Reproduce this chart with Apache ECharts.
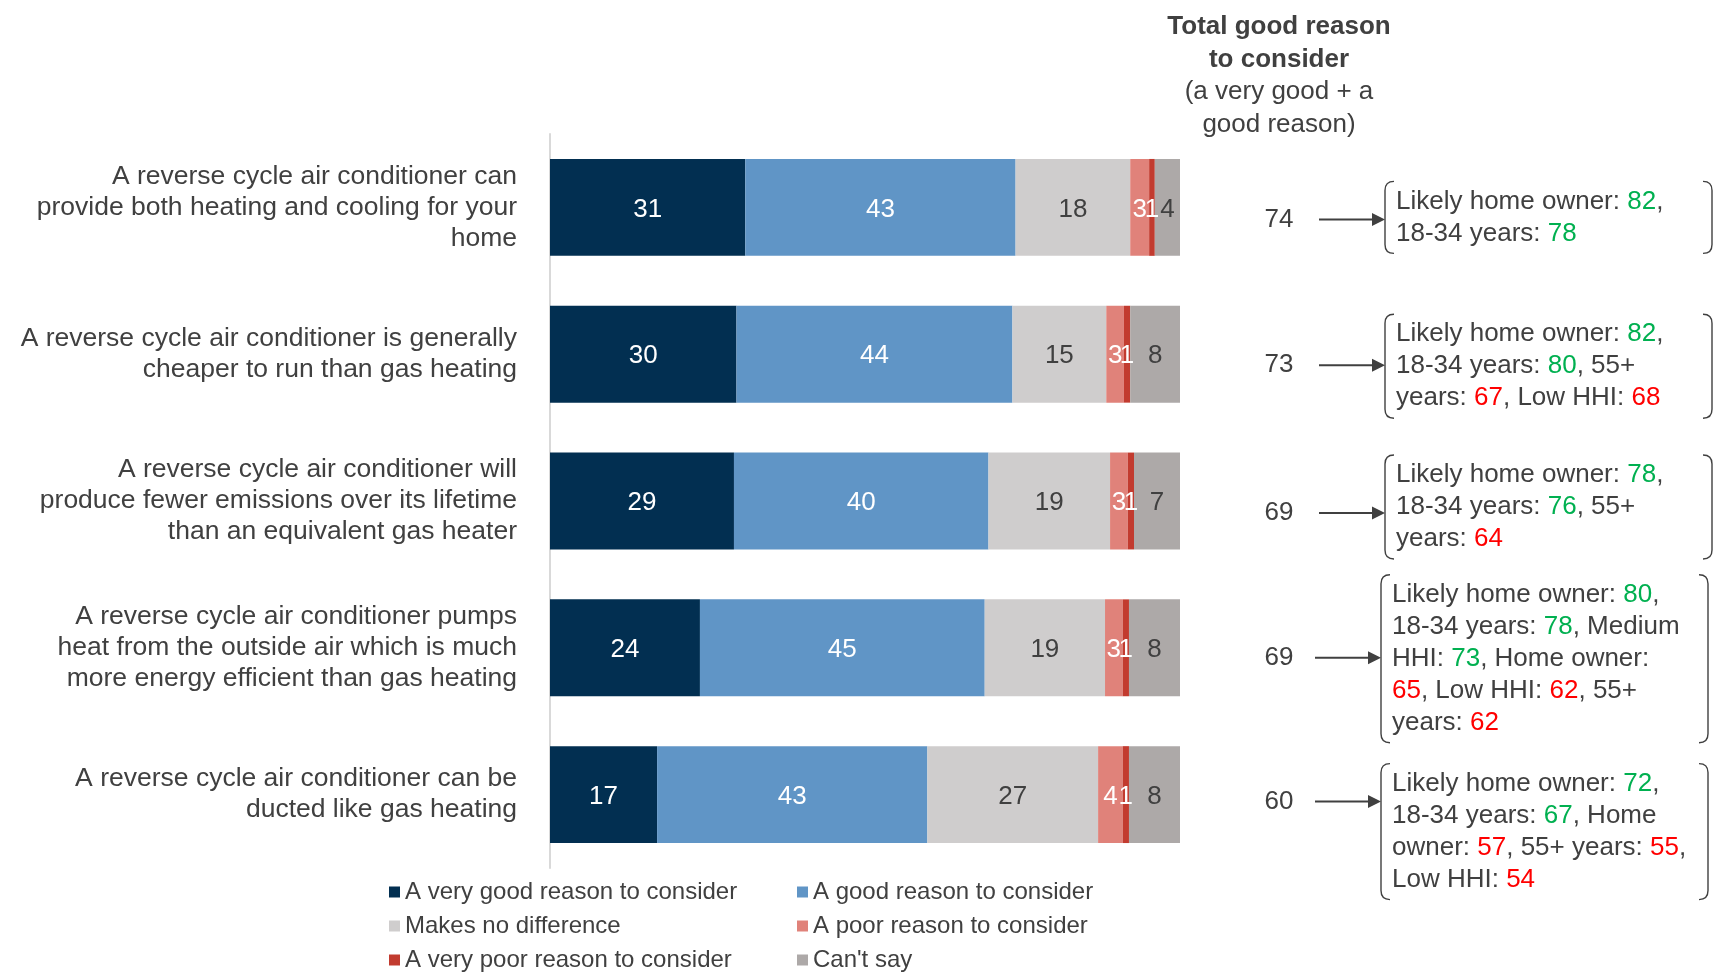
<!DOCTYPE html>
<html>
<head>
<meta charset="utf-8">
<script src="https://cdn.jsdelivr.net/npm/echarts@6/dist/echarts.min.js"></script>
<style>
html,body{margin:0;padding:0;background:#fff;}
#chart{width:1729px;height:980px;}
</style>
</head>
<body>
<div id="chart"></div>
<script>
// ---------- data ----------
const categories = [
  "A reverse cycle air conditioner can\nprovide both heating and cooling for your\nhome",
  "A reverse cycle air conditioner is generally\ncheaper to run than gas heating",
  "A reverse cycle air conditioner will\nproduce fewer emissions over its lifetime\nthan an equivalent gas heater",
  "A reverse cycle air conditioner pumps\nheat from the outside air which is much\nmore energy efficient than gas heating",
  "A reverse cycle air conditioner can be\nducted like gas heating"
];
const seriesNames = [
  "A very good reason to consider",
  "A good reason to consider",
  "Makes no difference",
  "A poor reason to consider",
  "A very poor reason to consider",
  "Can't say"
];
// shares (%); labels show rounded values
const veryGood = [31.0, 29.6, 29.2, 23.8, 17.0];
const good     = [42.9, 43.8, 40.4, 45.2, 42.9];
const noDiff   = [18.2, 14.9, 19.3, 19.1, 27.1];
const poor     = [3.0, 2.8, 2.8, 2.8, 3.9];
const veryPoor = [0.9, 1.0, 1.0, 1.0, 1.0];
const cantSay  = [4.0, 7.9, 7.3, 8.1, 8.1];
const totals   = [74, 73, 69, 69, 60];
const notes = [
  "Likely home owner: {g|82},\n18-34 years: {g|78}",
  "Likely home owner: {g|82},\n18-34 years: {g|80}, 55+\nyears: {r|67}, Low HHI: {r|68}",
  "Likely home owner: {g|78},\n18-34 years: {g|76}, 55+\nyears: {r|64}",
  "Likely home owner: {g|80},\n18-34 years: {g|78}, Medium\nHHI: {g|73}, Home owner:\n{r|65}, Low HHI: {r|62}, 55+\nyears: {r|62}",
  "Likely home owner: {g|72},\n18-34 years: {g|67}, Home\nowner: {r|57}, 55+ years: {r|55},\nLow HHI: {r|54}"
];

// ---------- styling / layout ----------
const FONT = "'Liberation Sans', Arial, sans-serif";
const TXT = '#404040';
const barColors = ['#022F51', '#6095C6', '#CFCDCD', '#E0827A', '#C23B2F', '#ADA9A8'];
const labelColors = ['#ffffff', '#ffffff', '#404040', '#ffffff', '#ffffff', '#404040'];
const totalDy = [12, 11, 12, 10, 7];
const noteDx = [0, 0, 0, -4, -4];
const boxDy = [-2, 1, -6, 1, 30];

const values = [veryGood, good, noDiff, poor, veryPoor, cantSay];

function renderNote(params, api) {
  const i = api.value(1);
  const p = api.coord([0, i]);
  const gx = p[0];
  const y = p[1] + totalDy[i];
  const sx = noteDx[i];
  const arrowStart = gx + 139 + sx;
  const arrowEnd = gx + 205 + sx;
  const boxL = arrowEnd;
  const boxR = gx + 532 + sx;
  const n = notes[i].split('\n').length;
  const h = n * 32 + 8;
  const cy = y + boxDy[i];
  const T = cy - h / 2, B = cy + h / 2;
  const r = 9;
  const leftPath = `M ${boxL + r} ${T} Q ${boxL} ${T} ${boxL} ${T + r} L ${boxL} ${B - r} Q ${boxL} ${B} ${boxL + r} ${B}`;
  const rightPath = `M ${boxR - r} ${T} Q ${boxR} ${T} ${boxR} ${T + r} L ${boxR} ${B - r} Q ${boxR} ${B} ${boxR - r} ${B}`;
  return {
    type: 'group',
    children: [
      {
        type: 'text',
        style: {
          text: String(api.value(0)), x: gx + 99, y: y,
          align: 'center', verticalAlign: 'middle',
          fontSize: 26, fontFamily: FONT, fill: TXT
        }
      },
      {
        type: 'line',
        shape: { x1: arrowStart, y1: y, x2: arrowEnd - 10, y2: y },
        style: { stroke: TXT, lineWidth: 2 }
      },
      {
        type: 'polygon',
        shape: { points: [[arrowEnd - 13, y - 6.5], [arrowEnd, y], [arrowEnd - 13, y + 6.5]] },
        style: { fill: TXT }
      },
      {
        type: 'path',
        shape: { pathData: leftPath },
        style: { fill: null, stroke: TXT, lineWidth: 1.4 }
      },
      {
        type: 'path',
        shape: { pathData: rightPath },
        style: { fill: null, stroke: TXT, lineWidth: 1.4 }
      },
      {
        type: 'text',
        style: {
          text: notes[i], x: boxL + 11, y: cy,
          align: 'left', verticalAlign: 'middle',
          fontSize: 26, fontFamily: FONT, fill: TXT, lineHeight: 32,
          rich: {
            g: { fill: '#00B050', fontSize: 26, fontFamily: FONT, lineHeight: 32 },
            r: { fill: '#FF0000', fontSize: 26, fontFamily: FONT, lineHeight: 32 }
          }
        }
      }
    ]
  };
}

const chart = echarts.init(document.getElementById('chart'), null, { renderer: 'canvas' });

const legendCommon = {
  orient: 'vertical', top: 880, itemGap: 10, itemWidth: 11, itemHeight: 11,
  icon: 'rect', padding: 0, selectedMode: false,
  textStyle: { fontSize: 24, color: TXT, fontFamily: FONT, lineHeight: 24 }
};

const option = {
  animation: false,
  backgroundColor: '#ffffff',
  textStyle: { fontFamily: FONT },
  grid: [
    { left: 550, width: 630, top: 134, height: 734 },
    { left: 1180, right: 0, top: 134, height: 734 }
  ],
  xAxis: [
    { gridIndex: 0, type: 'value', min: 0, max: 100, show: false },
    { gridIndex: 1, type: 'value', min: 0, max: 100, show: false }
  ],
  yAxis: [
    {
      gridIndex: 0, type: 'category', data: categories, inverse: true,
      axisLine: { show: true, lineStyle: { color: '#D9D9D9', width: 2 } },
      axisTick: { show: false },
      axisLabel: {
        margin: 33, fontSize: 26.5, lineHeight: 31, color: TXT, fontFamily: FONT, align: 'right'
      }
    },
    {
      gridIndex: 1, type: 'category', data: categories, inverse: true, show: false
    }
  ],
  legend: [
    Object.assign({ left: 389, data: [seriesNames[0], seriesNames[2], seriesNames[4]] }, legendCommon),
    Object.assign({ left: 797, data: [seriesNames[1], seriesNames[3], seriesNames[5]] }, legendCommon)
  ],
  graphic: [
    {
      type: 'text', x: 1279, y: 11,
      style: {
        text: '{b|Total good reason}\n{b|to consider}\n(a very good + a\ngood reason)',
        align: 'center', verticalAlign: 'top',
        fontSize: 26, fontFamily: FONT, fill: TXT, lineHeight: 32.5,
        rich: { b: { fontWeight: 'bold', fontSize: 26, fontFamily: FONT, fill: TXT, lineHeight: 32.5 } }
      }
    }
  ],
  series: values.map((v, k) => ({
    name: seriesNames[k],
    type: 'bar',
    stack: 'all',
    xAxisIndex: 0, yAxisIndex: 0,
    data: v,
    barCategoryGap: '34%',
    itemStyle: { color: barColors[k] },
    label: {
      show: true, position: 'inside', color: labelColors[k],
      fontSize: 26, fontFamily: FONT, offset: [0, 2],
      formatter: p => String(Math.round(p.value))
    },
    emphasis: { disabled: true }
  })).concat([{
    type: 'custom',
    name: 'totals',
    xAxisIndex: 1, yAxisIndex: 1,
    data: totals.map((t, i) => [t, i]),
    encode: { x: 0, y: 1 },
    renderItem: renderNote,
    silent: true
  }])
};

chart.setOption(option);
</script>
</body>
</html>
